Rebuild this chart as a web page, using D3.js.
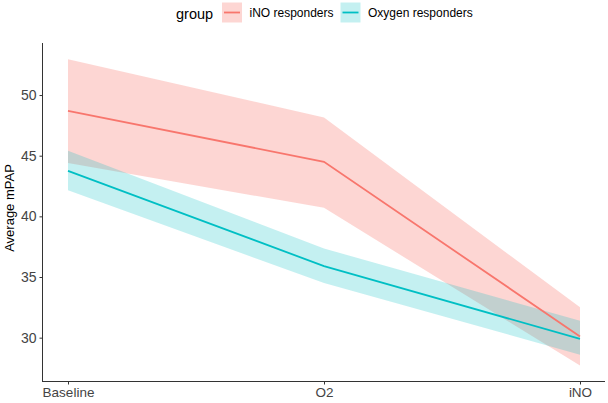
<!DOCTYPE html>
<html><head><meta charset="utf-8">
<script src="https://cdn.jsdelivr.net/npm/d3@7"></script>
<style>body{margin:0;background:#fff;}svg{display:block;font-family:"Liberation Sans",Arial,sans-serif;}</style>
</head><body>
<svg id="c" width="608" height="403"></svg>
<script>
const categories = ["Baseline", "O2", "iNO"];
const groups = ["iNO responders", "Oxygen responders"];
const colors = ["#F8766D", "#00BFC4"];
const inoMean = [48.7, 44.5, 30.1];
const inoLower = [44.4, 40.7, 27.7];
const inoUpper = [52.95, 48.15, 32.5];
const oxyMean = [43.75, 35.9, 29.9];
const oxyLower = [42.15, 34.5, 28.6];
const oxyUpper = [45.4, 37.35, 31.4];
const yTicks = [30, 35, 40, 45, 50];

const svg = d3.select("#c");
const x = d3.scalePoint().domain(categories).range([68, 580]);
const y = d3.scaleLinear().domain([26.37, 54.29]).range([381.7, 43]);

const series = [
  {name: groups[0], color: colors[0], mean: inoMean, lo: inoLower, hi: inoUpper, alpha: 0.3},
  {name: groups[1], color: colors[1], mean: oxyMean, lo: oxyLower, hi: oxyUpper, alpha: 0.23}
];

const area = d3.area().x((d,i)=>x(categories[i])).y0(d=>y(d[0])).y1(d=>y(d[1]));
const line = d3.line().x((d,i)=>x(categories[i])).y(d=>y(d));

series.forEach(s=>{
  svg.append("path").attr("d", area(s.lo.map((v,i)=>[v, s.hi[i]])))
    .attr("fill", s.color).attr("fill-opacity", s.alpha);
});
series.forEach(s=>{
  svg.append("path").attr("d", line(s.mean)).attr("fill","none")
    .attr("stroke", s.color).attr("stroke-width", 1.8);
});

// axes
const ax = svg.append("g").attr("transform","translate(0,381.5)")
  .call(d3.axisBottom(x).tickSize(3).tickSizeOuter(0));
ax.select(".domain").remove();
svg.append("line").attr("x1",42.5).attr("x2",605).attr("y1",381.5).attr("y2",381.5).attr("stroke","#333").attr("stroke-width",1);
ax.selectAll(".tick line").attr("stroke","#333");
ax.selectAll(".tick text").attr("fill","#444").attr("font-size",13.5).attr("dy","0.85em").attr("y",4);

const ay = svg.append("g").attr("transform","translate(42.5,0)")
  .call(d3.axisLeft(y).tickValues(yTicks).tickSize(3).tickSizeOuter(0));
ay.select(".domain").remove();
svg.append("line").attr("x1",42.5).attr("x2",42.5).attr("y1",43).attr("y2",382).attr("stroke","#333").attr("stroke-width",1);
ay.selectAll(".tick line").attr("stroke","#333");
ay.selectAll(".tick text").attr("fill","#444").attr("font-size",14).attr("x",-6);
svg.selectAll(".tick text").attr("font-family",'"Liberation Sans",Arial,sans-serif');

svg.append("text").attr("transform","translate(14,208) rotate(-90)")
  .attr("text-anchor","middle").attr("font-size",13).attr("fill","#000").text("Average mPAP");

// legend
const lg = svg.append("g");
lg.append("text").attr("x",176).attr("y",19).attr("font-size",14.5).attr("fill","#000").text("group");
const keyX = [222, 340.5], textX = [249.5, 368];
series.forEach((s,i)=>{
  lg.append("rect").attr("x",keyX[i]).attr("y",2.5).attr("width",20).attr("height",20)
    .attr("fill", s.color).attr("fill-opacity", s.alpha);
  lg.append("line").attr("x1",keyX[i]+2).attr("x2",keyX[i]+18).attr("y1",12.5).attr("y2",12.5)
    .attr("stroke", s.color).attr("stroke-width",1.8);
  lg.append("text").attr("x",textX[i]).attr("y",17).attr("font-size",12).attr("fill","#000").text(s.name);
});
</script>
</body></html>
